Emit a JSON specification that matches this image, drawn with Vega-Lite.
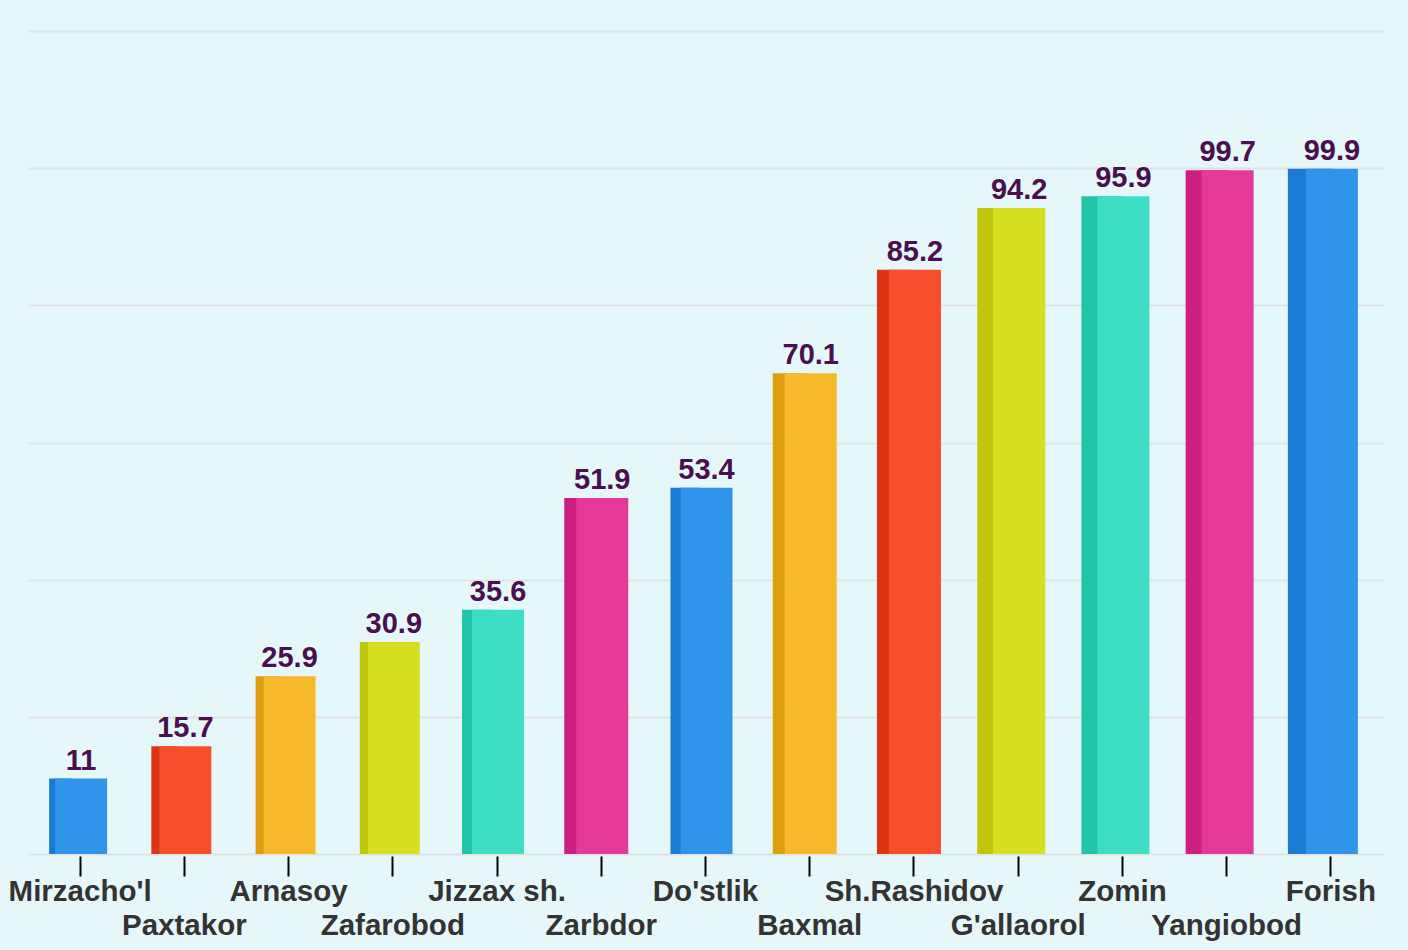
{
  "$schema": "https://vega.github.io/schema/vega-lite/v6.json",
  "width": 1355,
  "height": 823,
  "autosize": {"type": "none"},
  "padding": {"left": 28, "top": 31, "right": 25, "bottom": 96},
  "background": "#e6f7f9",
  "config": {"view": {"stroke": null}, "font": "Liberation Sans"},
  "data": {
    "values": [
      {"name": "Mirzacho'l", "value": 11},
      {"name": "Paxtakor", "value": 15.7},
      {"name": "Arnasoy", "value": 25.9},
      {"name": "Zafarobod", "value": 30.9},
      {"name": "Jizzax sh.", "value": 35.6},
      {"name": "Zarbdor", "value": 51.9},
      {"name": "Do'stlik", "value": 53.4},
      {"name": "Baxmal", "value": 70.1},
      {"name": "Sh.Rashidov", "value": 85.2},
      {"name": "G'allaorol", "value": 94.2},
      {"name": "Zomin", "value": 95.9},
      {"name": "Yangiobod", "value": 99.7},
      {"name": "Forish", "value": 99.9}
    ]
  },
  "encoding": {
    "x": {
      "field": "name",
      "type": "nominal",
      "sort": null,
      "scale": {"paddingInner": 0, "paddingOuter": 0},
      "axis": {
        "title": null,
        "domain": false,
        "grid": false,
        "ticks": true,
        "tickColor": "#000000",
        "tickWidth": 2,
        "tickSize": 20,
        "offset": 2,
        "labelAngle": 0,
        "labelFont": "Liberation Sans",
        "labelFontSize": 29.5,
        "labelFontWeight": "bold",
        "labelColor": "#333333",
        "labelPadding": 1,
        "labelLineHeight": 34,
        "labelOverlap": false,
        "labelLimit": 400,
        "labelExpr": "round(datum.index*12) % 2 == 1 ? [' ', datum.label] : datum.label"
      }
    },
    "y": {
      "field": "value",
      "type": "quantitative",
      "scale": {"domain": [0, 120], "nice": false},
      "axis": {
        "title": null,
        "labels": false,
        "ticks": false,
        "domain": false,
        "grid": true,
        "values": [0, 20, 40, 60, 80, 100, 120],
        "gridColor": "#e0e2e4",
        "gridWidth": 2
      }
    }
  },
  "layer": [
    {
      "mark": {"type": "bar", "xOffset": -20},
      "encoding": {
        "y2": {"datum": 0},
        "size": {
          "field": "name",
          "type": "nominal",
          "legend": null,
          "scale": {
            "type": "ordinal",
            "domain": ["Mirzacho'l", "Paxtakor", "Arnasoy", "Zafarobod", "Jizzax sh.", "Zarbdor", "Do'stlik", "Baxmal", "Sh.Rashidov", "G'allaorol", "Zomin", "Yangiobod", "Forish"],
            "range": [22, 26, 26, 26, 30, 34, 30, 34, 34, 42, 42, 42, 46]
          }
        },
        "color": {
          "field": "name",
          "type": "nominal",
          "legend": null,
          "scale": {
            "domain": ["Mirzacho'l", "Paxtakor", "Arnasoy", "Zafarobod", "Jizzax sh.", "Zarbdor", "Do'stlik", "Baxmal", "Sh.Rashidov", "G'allaorol", "Zomin", "Yangiobod", "Forish"],
            "range": ["#1a7ad4", "#dd3412", "#dc9f14", "#c0c60b", "#22c4a8", "#cc1f80", "#1a7ad4", "#dc9f14", "#dd3412", "#c0c60b", "#22c4a8", "#cc1f80", "#1a7ad4"]
          }
        }
      }
    },
    {
      "mark": {"type": "bar", "width": 52, "xOffset": 1},
      "encoding": {
        "y2": {"datum": 0},
        "color": {
          "field": "name",
          "type": "nominal",
          "legend": null,
          "scale": {
            "domain": ["Mirzacho'l", "Paxtakor", "Arnasoy", "Zafarobod", "Jizzax sh.", "Zarbdor", "Do'stlik", "Baxmal", "Sh.Rashidov", "G'allaorol", "Zomin", "Yangiobod", "Forish"],
            "range": ["#2f94ea", "#f74f2c", "#f6b92b", "#d6df20", "#3ddec4", "#e5399a", "#2f94ea", "#f6b92b", "#f74f2c", "#d6df20", "#3ddec4", "#e5399a", "#2f94ea"]
          }
        }
      }
    },
    {
      "mark": {"type": "text", "font": "Liberation Sans", "fontSize": 29, "fontWeight": "bold", "color": "#4b0f50", "baseline": "alphabetic", "dy": -9, "xOffset": 1},
      "encoding": {"text": {"field": "value", "type": "quantitative"}}
    }
  ],
  "resolve": {"scale": {"color": "independent", "size": "independent"}}
}
